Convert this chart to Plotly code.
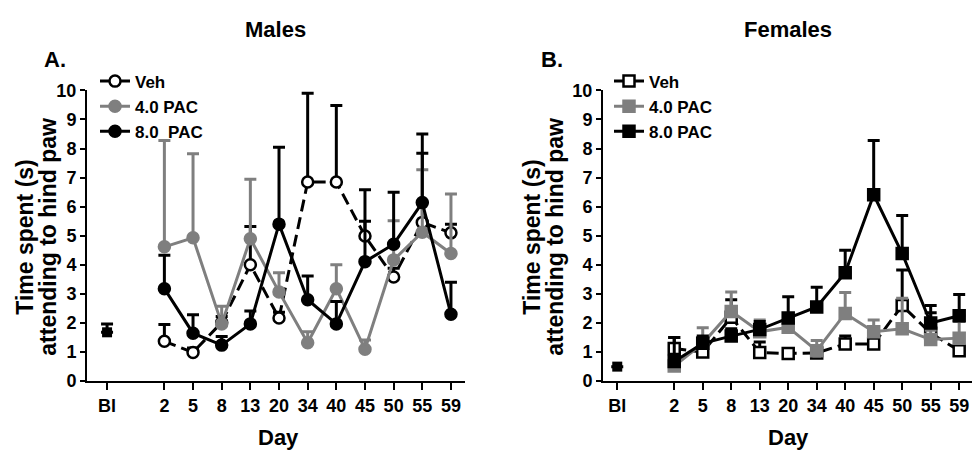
import plotly.graph_objects as go

# ---- data -----------------------------------------------------------------
day_labels = ["2", "5", "8", "13", "20", "34", "40", "45", "50", "55", "59"]
day_pos = list(range(2, 13))          # categorical slots, "Bl" sits at 0
tick_pos = [0] + day_pos
tick_text = ["Bl"] + day_labels

# Males (circles)
male_bl = [1.68]
male_bl_err = [0.29]
male_veh = [1.37, 0.99, 2.02, 4.00, 2.17, 6.85, 6.85, 4.99, 3.58, 5.46, 5.10]
male_veh_err = [0.58, 0.15, 0.20, 1.32, 0.20, 3.05, 2.63, 0.51, 0.30, 2.38, 0.30]
male_pac4 = [4.62, 4.93, 1.97, 4.90, 3.07, 1.32, 3.18, 1.10, 4.17, 5.12, 4.39]
male_pac4_err = [3.66, 2.89, 0.61, 2.04, 0.66, 0.38, 0.82, 0.32, 1.35, 2.15, 2.05]
male_pac8 = [3.18, 1.65, 1.24, 1.97, 5.40, 2.80, 1.97, 4.11, 4.71, 6.14, 2.30]
male_pac8_err = [1.15, 0.63, 0.30, 0.44, 2.64, 0.82, 0.77, 2.47, 1.79, 2.36, 1.10]

# Females (squares)
fem_bl = [0.50]
fem_bl_err = [0.0]
fem_veh = [1.12, 1.00, 2.20, 0.99, 0.95, 0.97, 1.28, 1.28, 2.60, 1.65, 1.05]
fem_veh_err = [0.38, 0.20, 0.60, 0.36, 0.15, 0.18, 0.27, 0.17, 1.22, 0.70, 0.15]
fem_pac4 = [0.52, 1.30, 2.40, 1.70, 1.85, 1.05, 2.33, 1.70, 1.80, 1.43, 1.48]
fem_pac4_err = [0.28, 0.54, 0.67, 0.40, 0.25, 0.35, 0.72, 0.40, 1.05, 0.32, 0.57]
fem_pac8 = [0.68, 1.30, 1.55, 1.78, 2.17, 2.55, 3.73, 6.41, 4.39, 2.00, 2.25]
fem_pac8_err = [0.82, 0.25, 0.25, 0.27, 0.73, 0.68, 0.77, 1.87, 1.31, 0.60, 0.73]

# ---- styling --------------------------------------------------------------
FONT = "Liberation Sans, Arial, sans-serif"
BLACK = "#000000"
GREY = "#7f7f7f"
LW = 3


def series(x, y, err, name, color, symbol, fill, dash, xa, ya, legend, show=True):
    return go.Scatter(
        x=x, y=y, name=name, mode="lines+markers",
        xaxis=xa, yaxis=ya, legend=legend, showlegend=show,
        line=dict(color=color, width=LW, dash=dash),
        marker=dict(symbol=symbol, size=11, color=fill,
                    line=dict(color=color, width=2.5)),
        error_y=dict(type="data", symmetric=False, array=err,
                     arrayminus=[0] * len(err), color=color,
                     thickness=3, width=6),
        cliponaxis=False,
    )


def baseline(y, err, xa, ya):
    return go.Scatter(
        x=[0], y=y, mode="markers", xaxis=xa, yaxis=ya, showlegend=False,
        marker=dict(symbol="square", size=10, color=BLACK),
        error_y=dict(type="data", symmetric=False, array=err, arrayminus=[0],
                     color=BLACK, thickness=3, width=6),
        cliponaxis=False,
    )


fig = go.Figure()

# Males panel
fig.add_trace(baseline(male_bl, male_bl_err, "x", "y"))
fig.add_trace(series(day_pos, male_veh, male_veh_err, "Veh", BLACK,
                     "circle", "white", "12px,6px", "x", "y", "legend"))
fig.add_trace(series(day_pos, male_pac4, male_pac4_err, "4.0 PAC", GREY,
                     "circle", GREY, "solid", "x", "y", "legend"))
fig.add_trace(series(day_pos, male_pac8, male_pac8_err, "8.0  PAC", BLACK,
                     "circle", BLACK, "solid", "x", "y", "legend"))

# Females panel
fig.add_trace(baseline(fem_bl, fem_bl_err, "x2", "y2"))
fig.add_trace(series(day_pos, fem_veh, fem_veh_err, "Veh", BLACK,
                     "square", "white", "12px,6px", "x2", "y2", "legend2"))
fig.add_trace(series(day_pos, fem_pac4, fem_pac4_err, "4.0 PAC", GREY,
                     "square", GREY, "solid", "x2", "y2", "legend2"))
fig.add_trace(series(day_pos, fem_pac8, fem_pac8_err, "8.0 PAC", BLACK,
                     "square", BLACK, "solid", "x2", "y2", "legend2"))

W, H = 972, 461


def px_x(p):
    return p / W


def px_y(p):
    return 1 - p / H


tickfont = dict(family=FONT, size=18, color=BLACK, weight="bold")
xcommon = dict(tickmode="array", tickvals=tick_pos, ticktext=tick_text,
               ticks="outside", ticklen=7, tickwidth=2, tickcolor=BLACK,
               showline=True, linewidth=2, linecolor=BLACK, showgrid=False,
               zeroline=False, tickfont=tickfont, fixedrange=True)
ycommon = dict(range=[0, 10], tickmode="linear", tick0=0, dtick=1,
               ticks="outside", ticklen=5, tickwidth=2, tickcolor=BLACK,
               showline=True, linewidth=2, linecolor=BLACK, showgrid=False,
               zeroline=False, tickfont=tickfont, fixedrange=True)

y_dom = [px_y(388), px_y(84)]
legend_font = dict(family=FONT, size=17, color=BLACK, weight="bold")

fig.update_layout(
    width=W, height=H,
    margin=dict(l=0, r=0, t=0, b=0),
    paper_bgcolor="white", plot_bgcolor="white",
    xaxis=dict(domain=[px_x(87), px_x(465)], range=[-0.7, 12.49],
               anchor="y", **xcommon),
    yaxis=dict(domain=y_dom, anchor="x", **ycommon),
    xaxis2=dict(domain=[px_x(603), 1.0], range=[-0.5, 12.45],
                anchor="y2", **xcommon),
    yaxis2=dict(domain=y_dom, anchor="x2", **ycommon),
    legend=dict(x=px_x(95), y=px_y(56), xanchor="left", yanchor="top",
                bgcolor="rgba(0,0,0,0)", borderwidth=0, itemwidth=30,
                font=legend_font),
    legend2=dict(x=px_x(609), y=px_y(56), xanchor="left", yanchor="top",
                 bgcolor="rgba(0,0,0,0)", borderwidth=0, itemwidth=30,
                 font=legend_font),
    showlegend=True,
)

title_font = dict(family=FONT, size=22, color=BLACK, weight="bold")
ytitle_font = dict(family=FONT, size=23, color=BLACK, weight="bold")

annotations = [
    dict(text="Males", x=px_x(275), y=px_y(20), font=title_font),
    dict(text="Females", x=px_x(788), y=px_y(20), font=title_font),
    dict(text="A.", x=px_x(55), y=px_y(52), font=title_font),
    dict(text="B.", x=px_x(552), y=px_y(52), font=title_font),
    dict(text="Day", x=px_x(278), y=px_y(447), font=title_font),
    dict(text="Day", x=px_x(788), y=px_y(447), font=title_font),
    dict(text="Time spent (s)", x=px_x(25), y=px_y(237), textangle=-90,
         font=ytitle_font),
    dict(text="attending to hind paw", x=px_x(48), y=px_y(237), textangle=-90,
         font=ytitle_font),
    dict(text="Time spent (s)", x=px_x(532), y=px_y(237), textangle=-90,
         font=ytitle_font),
    dict(text="attending to hind paw", x=px_x(555), y=px_y(237), textangle=-90,
         font=ytitle_font),
]
for a in annotations:
    a.update(xref="paper", yref="paper", showarrow=False,
             xanchor="center", yanchor="middle")
fig.update_layout(annotations=annotations)

fig.write_html("out.html", config={"displayModeBar": False})
